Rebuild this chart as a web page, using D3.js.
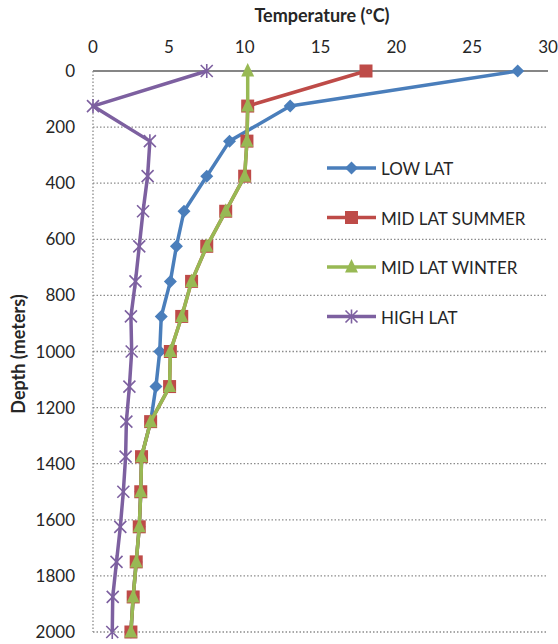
<!DOCTYPE html>
<html>
<head>
<meta charset="utf-8">
<script src="https://cdn.jsdelivr.net/npm/d3@7"></script>
<style>
  body { margin: 0; background: #fff; }
  text { font-family: Lato, "Open Sans", sans-serif; fill: #262626; }
</style>
</head>
<body>
<div id="chart"></div>
<script>
// Data: depth in meters, temperature in deg C
const depths = [0, 125, 250, 375, 500, 625, 750, 875, 1000, 1125, 1250, 1375, 1500, 1625, 1750, 1875, 2000];
const lowLat       = [28, 13, 9, 7.5, 6, 5.5, 5.1, 4.5, 4.4, 4.15, 3.8, 3.2, 3.15, 3.05, 2.85, 2.65, 2.5];
const midLatSummer = [18, 10.2, 10.15, 10, 8.75, 7.5, 6.5, 5.85, 5.1, 5.05, 3.8, 3.2, 3.15, 3.05, 2.85, 2.65, 2.5];
const midLatWinter = [10.2, 10.2, 10.15, 10, 8.75, 7.5, 6.5, 5.85, 5.1, 5.05, 3.8, 3.2, 3.15, 3.05, 2.85, 2.65, 2.5];
const highLat      = [7.5, 0, 3.75, 3.6, 3.3, 3.05, 2.8, 2.5, 2.55, 2.4, 2.2, 2.15, 2.0, 1.8, 1.55, 1.3, 1.27];
const seriesNames  = ["LOW LAT", "MID LAT SUMMER", "MID LAT WINTER", "HIGH LAT"];
const xTicks = [0, 5, 10, 15, 20, 25, 30];
const yTicks = [0, 200, 400, 600, 800, 1000, 1200, 1400, 1600, 1800, 2000];

const colors = ["#4a7ebb", "#be4b48", "#98b954", "#7d60a0"];
const symbols = ["diamond", "square", "triangle", "star"];

const margin = { top: 71, right: 10, bottom: 12, left: 93 };
const W = 558, H = 644;
const width = 548 - margin.left;
const height = 632 - margin.top;

const svg = d3.select("#chart").append("svg")
    .attr("width", W).attr("height", H);
const g = svg.append("g").attr("transform", `translate(${margin.left},${margin.top})`);

const x = d3.scaleLinear().domain([0, 30]).range([0, width]);
const y = d3.scaleLinear().domain([0, 2000]).range([0, height]);

// gridlines
g.selectAll(".grid")
    .data(yTicks.filter(d => d > 0))
    .enter().append("line")
    .attr("x1", 0).attr("x2", width)
    .attr("y1", d => y(d)).attr("y2", d => y(d))
    .attr("stroke", "#8c8c8c").attr("stroke-width", 1.3)
    .attr("stroke-dasharray", "1.5,2");

// left axis line (dotted)
g.append("line")
    .attr("x1", 0).attr("x2", 0).attr("y1", 0).attr("y2", height)
    .attr("stroke", "#8c8c8c").attr("stroke-width", 1.3)
    .attr("stroke-dasharray", "1.5,2");

// top axis line
g.append("line")
    .attr("x1", 0).attr("x2", width).attr("y1", 0).attr("y2", 0)
    .attr("stroke", "#868686").attr("stroke-width", 2);

// tick labels
g.selectAll(".xt").data(xTicks).enter().append("text")
    .attr("x", d => x(d)).attr("y", -18)
    .attr("text-anchor", "middle")
    .style("font-size", "17px")
    .text(d => d);

g.selectAll(".yt").data(yTicks).enter().append("text")
    .attr("x", -18).attr("y", d => y(d) + 6)
    .attr("text-anchor", "end")
    .style("font-size", "17px")
    .text(d => d);

// titles
svg.append("text")
    .attr("x", 322).attr("y", 22)
    .attr("text-anchor", "middle")
    .style("font-size", "18px").style("font-weight", "bold")
    .text("Temperature (ºC)");

svg.append("text")
    .attr("transform", `translate(25,354) rotate(-90)`)
    .attr("text-anchor", "middle")
    .style("font-size", "18px").style("font-weight", "bold")
    .text("Depth (meters)");

const allSeries = [lowLat, midLatSummer, midLatWinter, highLat];

function marker(sel, i) {
    const c = colors[i];
    if (symbols[i] === "diamond") {
        sel.append("path").attr("d", "M0,-6.5L6.5,0L0,6.5L-6.5,0Z").attr("fill", c);
    } else if (symbols[i] === "square") {
        sel.append("rect").attr("x", -6.5).attr("y", -6.5).attr("width", 13).attr("height", 13).attr("fill", c);
    } else if (symbols[i] === "triangle") {
        sel.append("path").attr("d", "M0,-8L6.5,5.5L-6.5,5.5Z").attr("fill", c);
    } else {
        sel.append("path").attr("d", "M-6,-6L6,6M-6,6L6,-6M0,-7L0,7")
            .attr("stroke", c).attr("stroke-width", 1.6).attr("fill", "none");
    }
}

const line = d3.line().x(d => x(d[1])).y(d => y(d[0]));

allSeries.forEach((vals, i) => {
    const pts = depths.map((dep, k) => [dep, vals[k]]);
    g.append("path")
        .datum(pts)
        .attr("d", line)
        .attr("fill", "none")
        .attr("stroke", colors[i])
        .attr("stroke-width", 3.5)
        .attr("stroke-linejoin", "round");
    g.selectAll(".m" + i).data(pts).enter().append("g")
        .attr("transform", d => `translate(${x(d[1])},${y(d[0])})`)
        .each(function () { marker(d3.select(this), i); });
});

// legend
const legend = svg.append("g").attr("transform", "translate(327,168)");
seriesNames.forEach((name, i) => {
    const row = legend.append("g").attr("transform", `translate(0,${i * 49.5})`);
    row.append("line").attr("x1", 0).attr("x2", 49).attr("y1", 0).attr("y2", 0)
        .attr("stroke", colors[i]).attr("stroke-width", 3.5);
    const m = row.append("g").attr("transform", "translate(24.5,0)");
    marker(m, i);
    row.append("text").attr("x", 54).attr("y", 7)
        .style("font-size", "17px").text(name);
});
</script>
</body>
</html>
